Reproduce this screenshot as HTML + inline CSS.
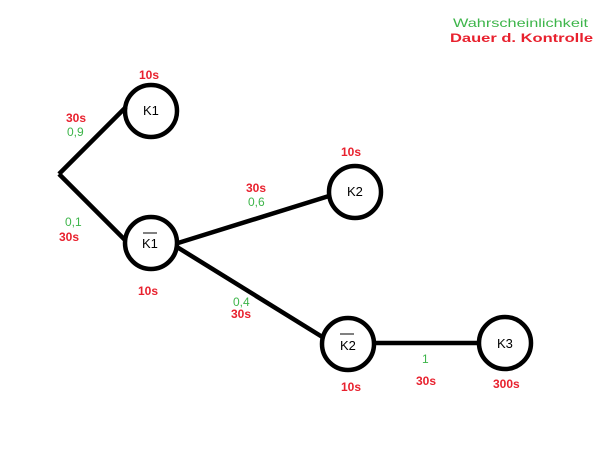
<!DOCTYPE html>
<html><head><meta charset="utf-8"><style>
html,body{margin:0;padding:0;background:#fff;}
svg{display:block;}
text{font-family:"Liberation Sans",sans-serif;font-size:12px;}
.r{fill:#e8212e;font-weight:bold;}
.g{fill:#3db54a;}
.k{fill:#000;font-size:13px;}
</style></head><body>
<svg width="614" height="460" viewBox="0 0 614 460" xmlns="http://www.w3.org/2000/svg">
<g stroke="#000" stroke-width="4.5" fill="none">
<line x1="59" y1="174" x2="126" y2="107"/>
<line x1="59" y1="174" x2="126" y2="241"/>
<line x1="178" y1="243" x2="329" y2="196"/>
<line x1="177" y1="247" x2="324" y2="338"/>
<line x1="374" y1="343" x2="479" y2="343"/>
<circle cx="151" cy="111" r="26"/>
<circle cx="151" cy="243" r="26"/>
<circle cx="355" cy="192" r="26"/>
<circle cx="348" cy="344" r="26"/>
<circle cx="505" cy="343" r="26"/>
</g>
<line x1="143" y1="233" x2="157" y2="233" stroke="#000" stroke-width="1"/>
<line x1="340" y1="334" x2="354" y2="334" stroke="#000" stroke-width="1"/>
<text class="k" x="143" y="115">K1</text>
<text class="k" x="142" y="248">K1</text>
<text class="k" x="347" y="196">K2</text>
<text class="k" x="340" y="350">K2</text>
<text class="k" x="497" y="348">K3</text>
<text class="g" x="453" y="27" font-size="13" textLength="135" lengthAdjust="spacingAndGlyphs">Wahrscheinlichkeit</text>
<text class="r" x="450" y="42" font-size="13" textLength="143" lengthAdjust="spacingAndGlyphs">Dauer d. Kontrolle</text>
<text class="r" x="139" y="79">10s</text>
<text class="r" x="66" y="122">30s</text>
<text class="g" x="67" y="136">0,9</text>
<text class="g" x="65" y="226">0,1</text>
<text class="r" x="59" y="241">30s</text>
<text class="r" x="138" y="295">10s</text>
<text class="r" x="246" y="192">30s</text>
<text class="g" x="248" y="206">0,6</text>
<text class="r" x="341" y="156">10s</text>
<text class="g" x="233" y="306">0,4</text>
<text class="r" x="231" y="318">30s</text>
<text class="r" x="341" y="391">10s</text>
<text class="g" x="422" y="363">1</text>
<text class="r" x="416" y="385">30s</text>
<text class="r" x="493" y="388">300s</text>
</svg>
</body></html>
